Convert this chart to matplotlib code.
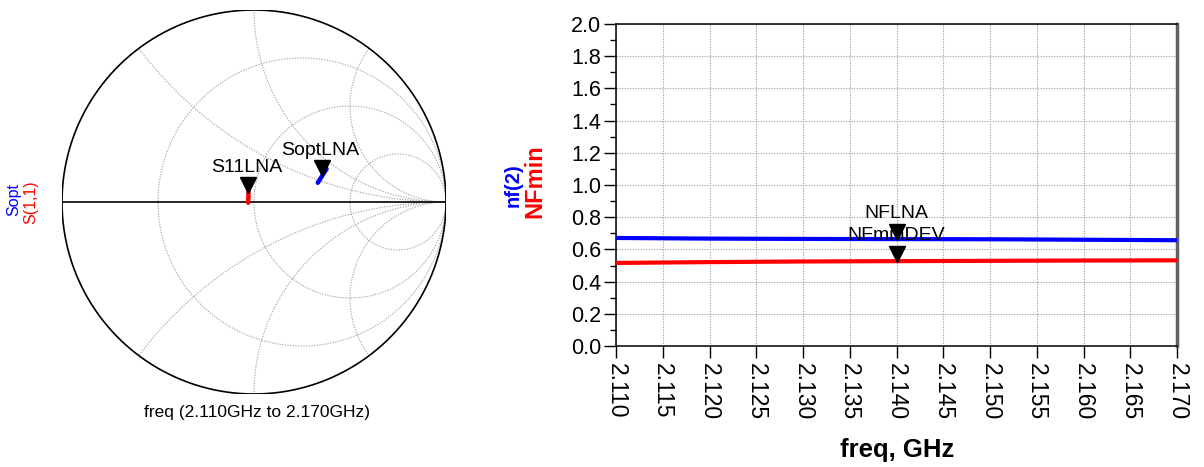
import numpy as np
import matplotlib
matplotlib.use("Agg")
import matplotlib.pyplot as plt
from matplotlib.patches import Circle
from matplotlib.transforms import offset_copy

plt.rcParams['font.family'] = ['Liberation Sans', 'DejaVu Sans']

# ---------------- data ----------------
freq = [2.110, 2.120, 2.130, 2.140, 2.150, 2.160, 2.170]          # GHz
nf2 = [0.671, 0.667, 0.665, 0.664, 0.663, 0.660, 0.657]            # nf(2)
nfmin = [0.516, 0.521, 0.525, 0.527, 0.529, 0.531, 0.532]          # NFmin
s11_re = [-0.030, -0.030, -0.029, -0.029, -0.028, -0.028, -0.027]
s11_im = [-0.004, 0.012, 0.030, 0.048, 0.064, 0.080, 0.095]
sopt_re = [0.332, 0.340, 0.347, 0.355, 0.362, 0.370, 0.378]
sopt_im = [0.100, 0.112, 0.124, 0.136, 0.148, 0.160, 0.172]
marker_freq = 2.140
r_grid = [1/3, 1.0, 3.0]
x_grid = [0.5, 1.0, 2.0]
xticks = [2.110, 2.115, 2.120, 2.125, 2.130, 2.135, 2.140, 2.145, 2.150,
          2.155, 2.160, 2.165, 2.170]
yticks = [0.0, 0.2, 0.4, 0.6, 0.8, 1.0, 1.2, 1.4, 1.6, 1.8, 2.0]

W, H = 1204, 467
fig = plt.figure(figsize=(W / 100, H / 100), dpi=100)
mi = freq.index(marker_freq)

grid_kw = dict(color='#a8a8a8', lw=0.8, ls=(0, (1.2, 1.2)))

# ---------------- Smith chart ----------------
axs = fig.add_axes([62 / W, 73 / H, 384 / W, 384 / H])
axs.set_xlim(-1, 1)
axs.set_ylim(-1, 1)
axs.set_aspect('equal')
axs.axis('off')
unit = Circle((0, 0), 1, transform=axs.transData, fill=False, lw=0)
axs.add_patch(unit)
t = np.linspace(0, 2 * np.pi, 721)
for r in r_grid:
    c, rad = r / (1 + r), 1 / (1 + r)
    axs.plot(c + rad * np.cos(t), rad * np.sin(t), **grid_kw)
for xv in x_grid:
    for sgn in (1, -1):
        ln, = axs.plot(1 + (1 / xv) * np.cos(t), sgn / xv + (1 / xv) * np.sin(t), **grid_kw)
        ln.set_clip_path(unit)
axs.plot([-1, 1], [0, 0], color='black', lw=1.2)
axs.plot(np.cos(t), np.sin(t), color='black', lw=1.2)

axs.plot(s11_re, s11_im, color='#ff0000', lw=3.2, solid_capstyle='round', zorder=4)
axs.plot(sopt_re, sopt_im, color='#0000ff', lw=3.2, solid_capstyle='round', zorder=4)

tri_s = offset_copy(axs.transData, fig=fig, x=0, y=7.5, units='dots')
for re, im, lab in [(s11_re[mi], s11_im[mi], 'S11LNA'), (sopt_re[mi], sopt_im[mi], 'SoptLNA')]:
    axs.plot([re], [im], marker='v', ms=11, color='black', transform=tri_s, zorder=5, clip_on=False)
    axs.annotate(lab, xy=(re, im), xytext=(-2, 25), textcoords='offset pixels',
                 ha='center', va='center', fontsize=14, zorder=6)

fig.text(14 / W, 1 - 200 / H, 'Sopt', color='#0000ff', rotation=90,
         ha='center', va='center', fontsize=11.5)
fig.text(31 / W, 1 - 202 / H, 'S(1,1)', color='#ff0000', rotation=90,
         ha='center', va='center', fontsize=11.5)
fig.text(257 / W, 1 - 413 / H, 'freq (2.110GHz to 2.170GHz)',
         ha='center', va='center', fontsize=12.5)

# ---------------- Rectangular plot ----------------
ax = fig.add_axes([616 / W, (H - 346) / H, (1177 - 616) / W, (346 - 24) / H])
ax.plot(freq, nf2, color='#0000ff', lw=3.0, zorder=3)
ax.plot(freq, nfmin, color='#ff0000', lw=3.0, zorder=3)
ax.set_xlim(freq[0], freq[-1])
ax.set_ylim(0, 2.0)
ax.set_xticks(xticks)
ax.set_xticklabels(['%.3f' % v for v in xticks], rotation=270, fontsize=16.5)
ax.set_yticks(yticks)
ax.set_yticklabels(['%.1f' % v for v in yticks], fontsize=15.5)
ax.set_yticks(np.arange(0.1, 2.0, 0.2), minor=True)
ax.tick_params(axis='both', which='major', direction='out', length=8.5, width=1, pad=2)
ax.tick_params(axis='y', which='minor', direction='out', length=4.3, width=1)
ax.tick_params(axis='x', which='major', pad=4)
ax.grid(True, which='major', **grid_kw)
for s in ['left', 'top', 'bottom']:
    ax.spines[s].set_color('black')
    ax.spines[s].set_linewidth(1.1)
ax.spines['right'].set_color('#606060')
ax.spines['right'].set_linewidth(2.5)

tri_r = offset_copy(ax.transData, fig=fig, x=0, y=7.5, units='dots')
for yv, lab in [(nf2[mi], 'NFLNA'), (nfmin[mi], 'NFminDEV')]:
    ax.plot([marker_freq], [yv], marker='v', ms=11, color='black', transform=tri_r,
            zorder=5, clip_on=False)
    ax.annotate(lab, xy=(marker_freq, yv), xytext=(0, 26), textcoords='offset pixels',
                ha='center', va='center', fontsize=14, zorder=6)

fig.text(513 / W, 1 - 185 / H, 'nf(2)', color='#0000ff', rotation=90,
         ha='center', va='center', fontsize=14.5, fontweight='bold')
fig.text(535 / W, 1 - 181 / H, 'NFmin', color='#ff0000', rotation=90,
         ha='center', va='center', fontsize=17, fontweight='bold')
fig.text(897 / W, 1 - 450 / H, 'freq, GHz', ha='center', va='center',
         fontsize=18.5, fontweight='bold')

fig.savefig('out.png', dpi=100)
